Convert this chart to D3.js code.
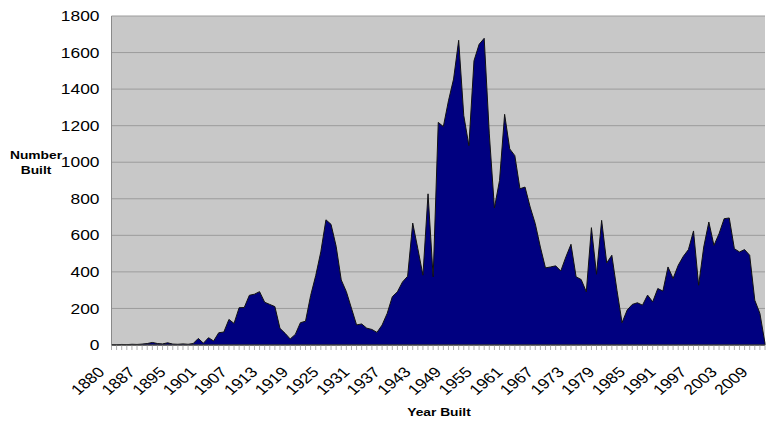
<!DOCTYPE html>
<html>
<head>
<meta charset="utf-8">
<script src="https://cdn.jsdelivr.net/npm/d3@7"></script>
<style>
  body { margin: 0; background: #fff; }
  text { font-family: "Liberation Sans", Arial, sans-serif; }
</style>
</head>
<body>
<div id="chart"></div>
<script>
// categories (some early years missing in the source table)
const years = [1880, 1881, 1882, 1883, 1884, 1886, 1887, 1888, 1889, 1891, 1892, 1894,
  1895, 1896, 1897, 1898, 1899, 1900, 1901, 1902, 1903, 1904, 1905, 1906, 1907, 1908, 1909,
  1910, 1911, 1912, 1913, 1914, 1915, 1916, 1917, 1918, 1919, 1920, 1921, 1922, 1923, 1924,
  1925, 1926, 1927, 1928, 1929, 1930, 1931, 1932, 1933, 1934, 1935, 1936, 1937, 1938, 1939,
  1940, 1941, 1942, 1943, 1944, 1945, 1946, 1947, 1948, 1949, 1950, 1951, 1952, 1953, 1954,
  1955, 1956, 1957, 1958, 1959, 1960, 1961, 1962, 1963, 1964, 1965, 1966, 1967, 1968, 1969,
  1970, 1971, 1972, 1973, 1974, 1975, 1976, 1977, 1978, 1979, 1980, 1981, 1982, 1983, 1984,
  1985, 1986, 1987, 1988, 1989, 1990, 1991, 1992, 1993, 1994, 1995, 1996, 1997, 1998, 1999,
  2000, 2001, 2002, 2003, 2004, 2005, 2006, 2007, 2008, 2009, 2010, 2011];

const built = [2, 1, 3, 2, 4, 3, 5, 8, 14, 8, 6, 12,
  5, 4, 6, 4, 8, 36, 10, 40, 22, 67, 71, 140, 118, 204, 205,
  272, 278, 292, 234, 222, 210, 91, 64, 33, 58, 122, 130, 270, 380, 510,
  685, 660, 540, 356, 292, 201, 110, 115, 92, 85, 69, 109, 173, 264, 291,
  345, 376, 667, 527, 382, 827, 373, 1218, 1195, 1336, 1455, 1667, 1255, 1091, 1555,
  1645, 1678, 1155, 750, 900, 1262, 1073, 1036, 855, 864, 755, 664, 536, 422, 427,
  433, 405, 482, 551, 373, 358, 291, 642, 387, 682, 449, 491, 300, 122, 191,
  222, 231, 218, 273, 236, 309, 295, 427, 364, 436, 485, 522, 624, 327, 536,
  673, 545, 609, 691, 695, 527, 509, 522, 491, 245, 173, 9];

const yTicks = [0, 200, 400, 600, 800, 1000, 1200, 1400, 1600, 1800];
const xLabels = years.filter((d, i) => i % 6 === 0);

const width = 768, height = 423;
const plotLeft = 111.5, plotRight = 765, plotTop = 16, plotBottom = 345;
const stretch = 'scale(1.2,1)';

const svg = d3.select('#chart').append('svg')
    .attr('width', width)
    .attr('height', height);

const x = d3.scalePoint()
    .domain(years)
    .range([plotLeft, plotRight]);

const y = d3.scaleLinear()
    .domain([0, 1800])
    .range([plotBottom, plotTop]);

// plot background
svg.append('rect')
    .attr('x', plotLeft).attr('y', plotTop)
    .attr('width', plotRight - plotLeft).attr('height', plotBottom - plotTop)
    .attr('fill', '#c8c8c8');

// gridlines
svg.append('g')
    .selectAll('line')
    .data(yTicks.slice(1))
    .enter()
    .append('line')
    .attr('x1', plotLeft).attr('x2', plotRight)
    .attr('y1', d => y(d)).attr('y2', d => y(d))
    .attr('stroke', '#9c9c9c')
    .attr('stroke-width', 1);

// area
let area = d3.area()
    .x((d, i) => x(years[i]))
    .y0(y(0))
    .y1(d => y(d));

svg.append('path')
    .datum(built)
    .attr('d', area)
    .attr('fill', '#000080')
    .attr('stroke', '#111')
    .attr('stroke-width', 1)
    .attr('stroke-linejoin', 'round');

// left border
svg.append('line')
    .attr('x1', plotLeft).attr('x2', plotLeft)
    .attr('y1', plotTop).attr('y2', plotBottom)
    .attr('stroke', '#8a8a8a');

// y axis
let yAxis = svg.append('g')
    .attr('transform', 'translate(' + plotLeft + ',0)')
    .call(d3.axisLeft(y).tickValues(yTicks).tickFormat(d3.format('d')).tickSize(0).tickPadding(10));
yAxis.select('.domain').remove();
yAxis.selectAll('text')
    .attr('font-size', 14.5)
    .attr('fill', '#000')
    .attr('transform', stretch);

// x axis: minor ticks at every category
svg.append('g')
    .selectAll('line')
    .data(years)
    .enter()
    .append('line')
    .attr('x1', d => x(d)).attr('x2', d => x(d))
    .attr('y1', plotBottom).attr('y2', plotBottom + 5)
    .attr('stroke', '#b0b0b0');

svg.append('line')
    .attr('x1', plotLeft).attr('x2', plotRight)
    .attr('y1', plotBottom).attr('y2', plotBottom)
    .attr('stroke', '#555')
    .attr('stroke-width', 1.2);

svg.append('g')
    .selectAll('text')
    .data(xLabels)
    .enter()
    .append('text')
    .attr('transform', d => 'translate(' + (x(d) - 6) + ',' + (plotBottom + 28) + ') ' + stretch + ' rotate(-45)')
    .attr('text-anchor', 'end')
    .attr('font-size', 14.5)
    .text(d => d);

// axis titles
let yTitle = svg.append('text')
    .attr('transform', 'translate(36,0) ' + stretch)
    .attr('text-anchor', 'middle')
    .attr('font-size', 11.5)
    .attr('font-weight', 'bold');
yTitle.append('tspan').attr('x', 0).attr('y', 159).text('Number');
yTitle.append('tspan').attr('x', 0).attr('y', 174).text('Built');

svg.append('text')
    .attr('transform', 'translate(439,416) ' + stretch)
    .attr('text-anchor', 'middle')
    .attr('font-size', 11.5)
    .attr('font-weight', 'bold')
    .text('Year Built');
</script>
</body>
</html>
